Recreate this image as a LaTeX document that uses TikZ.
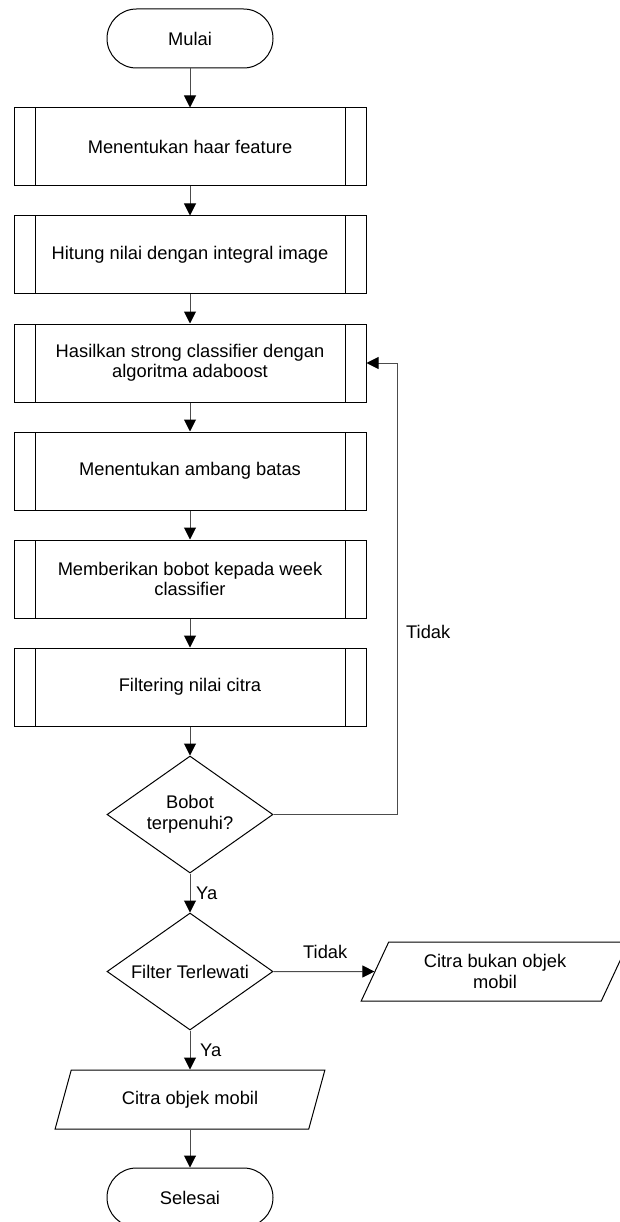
\documentclass[tikz,border=0pt]{standalone}
\usepackage{fontspec}
\setmainfont{Liberation Sans}
\usetikzlibrary{shapes.geometric,arrows.meta,calc}
\begin{document}
\begin{tikzpicture}[x=1pt,y=-1pt,
  every node/.style={font=\fontsize{18.3}{20.5}\selectfont, inner sep=0pt},
  line/.style={draw=black!70, line width=1pt},
  arr/.style={line, -{Triangle[length=12pt,width=12pt,color=black]}},
  term/.style={draw, line width=1pt, rounded corners=29.5pt, minimum width=166pt, minimum height=59pt},
  subproc/.style={draw, line width=1pt, minimum width=352pt, minimum height=78pt, align=center,
     path picture={\draw[line width=1pt] ([xshift=21pt]path picture bounding box.north west) -- ([xshift=21pt]path picture bounding box.south west) ([xshift=-21pt]path picture bounding box.north east) -- ([xshift=-21pt]path picture bounding box.south east);}},
  decision/.style={draw, diamond, aspect=1.42, line width=1pt, minimum width=166pt, minimum height=117pt, align=center},
  io/.style={draw, trapezium, trapezium left angle=61.5, trapezium right angle=118.5, trapezium stretches=true, line width=1pt, minimum height=59pt, align=center},
  lbl/.style={anchor=west}
]
\useasboundingbox (0,0) rectangle (619,1222);
\node[term] (start) at (190,38.5) {Mulai};
\node[subproc] (p1) at (190,147) {Menentukan haar feature};
\node[subproc] (p2) at (190,255) {Hitung nilai dengan integral image};
\node[subproc] (p3) at (190,363) {Hasilkan strong classifier dengan\\algoritma adaboost};
\node[subproc] (p4) at (190,471) {Menentukan ambang batas};
\node[subproc] (p5) at (190,579) {Memberikan bobot kepada week\\classifier};
\node[subproc] (p6) at (190,687) {Filtering nilai citra};
\node[decision] (d1) at (190,814.5) {Bobot\\terpenuhi?};
\node[decision] (d2) at (190,971.5) {Filter Terlewati};
\node[io, minimum width=268pt] (o2) at (495,971.5) {Citra bukan objek\\mobil};
\node[io, minimum width=270pt] (o1) at (190,1099.5) {Citra objek mobil};
\node[term] (end) at (190,1197.5) {Selesai};
\coordinate (c1) at (397,814.5);
\coordinate (c2) at (397,363);
\draw[arr] (start) -- (p1);
\draw[arr] (p1) -- (p2);
\draw[arr] (p2) -- (p3);
\draw[arr] (p3) -- (p4);
\draw[arr] (p4) -- (p5);
\draw[arr] (p5) -- (p6);
\draw[arr] (p6) -- (d1);
\draw[arr] (d1.east) -- (c1) -- (c2) -- (p3.east);
\draw[arr] (d1) -- (d2);
\draw[arr] (d2) -- (o2);
\draw[arr] (d2) -- (o1);
\draw[arr] (o1) -- (end);
\node[lbl] (t1) at (406,632) {Tidak};
\node[lbl] (y1) at (196,893) {Ya};
\node[lbl] (t2) at (303,952) {Tidak};
\node[lbl] (y2) at (200,1050) {Ya};
\end{tikzpicture}
\end{document}
